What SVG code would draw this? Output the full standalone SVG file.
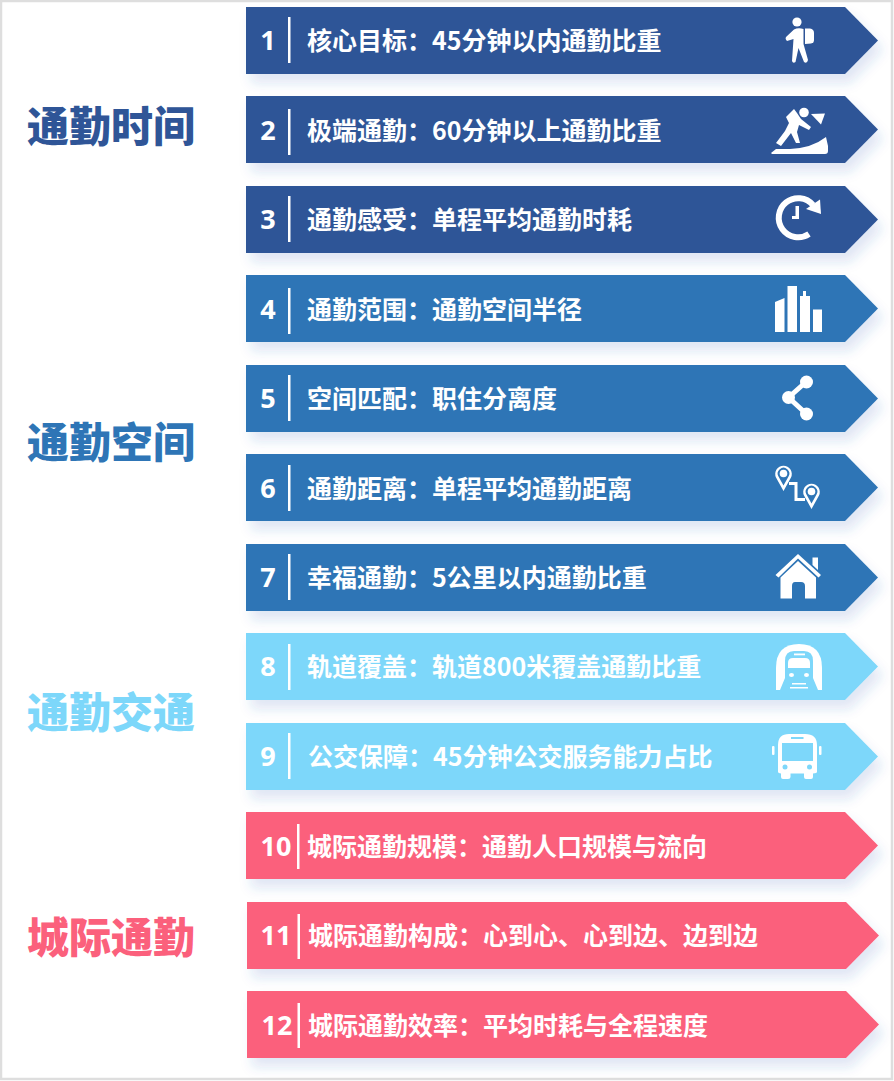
<svg xmlns="http://www.w3.org/2000/svg" width="894" height="1081" viewBox="0 0 894 1081">
<style>
text{font-family:"Noto Sans CJK SC","Noto Sans",sans-serif;font-weight:700}
.h{font-size:42px;font-weight:900}
.t{font-size:25px;fill:#fff}
.n{font-size:27px;fill:#fff;text-anchor:middle;font-family:"Noto Sans","Noto Sans CJK SC",sans-serif}
.d{fill:#2f5597}.m{fill:#2e75b6}.l{fill:#7dd7fa}.p{fill:#fb607c}
.w{fill:#fff}.ws{fill:none;stroke:#fff;stroke-linecap:round;stroke-linejoin:round}
.a{filter:url(#s)}
.v{fill:#fff}
</style>
<defs>
<filter id="s" x="-5%" y="-30%" width="112%" height="170%"><feDropShadow dx="5" dy="9" stdDeviation="6" flood-color="#2f5fb5" flood-opacity=".15"/></filter>
<path id="ar" d="M0 0H599L632 33.500L599 67H0Z"/>
</defs>
<rect width="894" height="1081" fill="#fff"/>
<rect x="1" y="1" width="891" height="1078" fill="none" stroke="#dedede" stroke-width="2.500"/>

<g id="headings">
<text class="h" x="27" y="142" fill="#2f5597">通勤时间</text>
<text class="h" x="27" y="458" fill="#2e75b6">通勤空间</text>
<text class="h" x="27" y="728" fill="#7dd7fa">通勤交通</text>
<text class="h" x="27" y="953" fill="#fb607c">城际通勤</text>
</g>

<g id="node1"><use href="#ar" x="246" y="7" class="a d"/><text class="n" x="268" y="50">1</text><rect class="v" x="288" y="17" width="2.500" height="46"/><text class="t" x="307" y="50">核心目标：45分钟以内通勤比重</text>
<circle class="w" cx="797" cy="22" r="4.600"/><path class="w" d="M805 28.500H810Q814 29 814 33V40Q814 43 811 43.500L805 44Z"/><path class="w" d="M794 29.500Q798 27.500 803.500 29V44L808 60Q807 64 804 62L798.500 48L795.500 62Q793 64 792 61L793.500 39L787 41Q784.500 38.500 786.500 36.500Z"/></g>

<g id="node2"><use href="#ar" x="246" y="96" class="a d"/><text class="n" x="268" y="140">2</text><rect class="v" x="288" y="109" width="2.500" height="46"/><text class="t" x="307" y="140">极端通勤：60分钟以上通勤比重</text>
<circle class="w" cx="804" cy="112.500" r="4.800"/><path class="w" d="M811 114L825 113.500L821 124.500Z"/><path class="w" d="M786 117L794 109L797 113L801 119L811 127L809 130L799 125L797 132L800 143H796L791 133L781 146L776 143L785 131L789 123Z"/><path class="w" d="M771 153L776 149H790Q812 148 826 137L828 146V151Q828 154 825 154H772Z"/></g>

<g id="node3"><use href="#ar" x="246" y="186" class="a d"/><text class="n" x="268" y="229">3</text><rect class="v" x="288" y="196" width="2.500" height="46"/><text class="t" x="307" y="229">通勤感受：单程平均通勤时耗</text>
<path class="ws" style="stroke-linecap:butt" stroke-width="6" d="M809 234A19.500 19.500 0 1 1 813 205"/><path class="w" d="M820 199.500L821 214L806 209Z"/><path class="w" d="M795.500 206H799V219H792V216H795.500Z"/></g>

<g id="node4"><use href="#ar" x="246" y="275" class="a m"/><text class="n" x="268" y="319">4</text><rect class="v" x="288" y="288" width="2.500" height="46"/><text class="t" x="307" y="319">通勤范围：通勤空间半径</text>
<path class="w" d="M775 302L784.500 298V332H775ZM787.500 286H797V332H787.500ZM800 296H803V291H806V296H810V332H800ZM813 309.500H822V332H813Z"/></g>

<g id="node5"><use href="#ar" x="246" y="365" class="a m"/><text class="n" x="268" y="408">5</text><rect class="v" x="288" y="375" width="2.500" height="46"/><text class="t" x="307" y="408">空间匹配：职住分离度</text>
<path class="ws" stroke-width="5" d="M806.500 381.500L788.500 397.500L806.500 414"/><circle class="w" cx="806.500" cy="382" r="6.500"/><circle class="w" cx="788.500" cy="397.500" r="6.500"/><circle class="w" cx="806.500" cy="414" r="6.500"/></g>

<g id="node6"><use href="#ar" x="246" y="454" class="a m"/><text class="n" x="268" y="498">6</text><rect class="v" x="288" y="465" width="2.500" height="46"/><text class="t" x="307" y="498">通勤距离：单程平均通勤距离</text>
<path class="ws" style="stroke-linecap:butt;stroke-linejoin:miter" stroke-width="3" d="M789 483.500H796V499.500H805"/>
<g id="pins"><path class="w" fill-rule="evenodd" d="M783.500 491L776 477.500A8.300 8.300 0 1 1 791 477.500ZM783.500 485.500L788.500 476.500A5.800 5.800 0 1 0 778.500 476.500Z"/><circle class="w" cx="783.500" cy="473.500" r="3.800"/><path class="w" fill-rule="evenodd" d="M811.500 509L804 495.500A8.300 8.300 0 1 1 819 495.500ZM811.500 503.500L816.500 494.500A5.800 5.800 0 1 0 806.500 494.500Z"/><circle class="w" cx="811.500" cy="491.500" r="3.800"/></g></g>

<g id="node7"><use href="#ar" x="246" y="544" class="a m"/><text class="n" x="268" y="587">7</text><rect class="v" x="288" y="554" width="2.500" height="46"/><text class="t" x="307" y="587">幸福通勤：5公里以内通勤比重</text>
<path class="w" d="M812.500 557.500H818V570L812.500 565ZM775.500 575L798 554L821 575L818.500 577.500L798 558.500L778.500 577.500Z"/><path class="w" d="M780.500 577.500L798 561L816 577.500V598.500H805V586Q805 582 801 582H795Q792 582 792 586V598.500H780.500Z"/></g>

<g id="node8"><use href="#ar" x="246" y="633" class="a l"/><text class="n" x="268" y="676">8</text><rect class="v" x="288" y="644" width="2.500" height="46"/><text class="t" x="307" y="676">轨道覆盖：轨道800米覆盖通勤比重</text>
<path class="w" d="M776 690V668Q776 644 799 644Q822 644 822 668V690Z"/><path class="l" d="M785 661Q785 651 794 651H804Q813 651 813 661V678L818 690H780L785 678Z"/><rect class="w" x="794" y="653.500" width="11" height="1.800"/><path class="w" d="M788 663Q788 658 793 658H805Q810 658 810 663V668H788Z"/><ellipse class="w" cx="791.500" cy="675" rx="2.500" ry="2"/><ellipse class="w" cx="806.500" cy="675" rx="2.500" ry="2"/><rect class="w" x="792" y="683" width="14" height="1.500"/><rect class="w" x="790" y="687" width="18" height="1.500"/></g>

<g id="node9"><use href="#ar" x="246" y="723" class="a l"/><text class="n" x="268" y="766">9</text><rect class="v" x="288" y="733" width="2.500" height="46"/><text class="t" x="308" y="766">公交保障：45分钟公交服务能力占比</text>
<path class="w" d="M778 745Q778 734 789 734H805Q817 734 817 745V772Q817 773 813 773.500V777Q813 779 811 779H806Q804 779 804 777V773.500H790.500V777Q790.500 779 788 779H783Q781 779 781 777V773.500Q778 773 778 772Z"/><rect class="l" x="782" y="743" width="31" height="18"/><rect class="l" x="791" y="737" width="12.500" height="2"/><circle class="l" cx="785" cy="767" r="2.500"/><circle class="l" cx="809.500" cy="767" r="2.500"/><rect class="w" x="772" y="746" width="2.500" height="9" rx="1"/><rect class="w" x="819" y="746" width="2.500" height="9" rx="1"/></g>

<g id="node10"><use href="#ar" x="246" y="812" class="a p"/><text class="n" x="276" y="856">10</text><rect class="v" x="297" y="824" width="2.500" height="45"/><text class="t" x="307" y="856">城际通勤规模：通勤人口规模与流向</text></g>

<g id="node11"><use href="#ar" x="247" y="902" class="a p"/><text class="n" x="276" y="945">11</text><rect class="v" x="297.500" y="914" width="2.500" height="45"/><text class="t" x="308" y="945">城际通勤构成：心到心、心到边、边到边</text></g>

<g id="node12"><use href="#ar" x="247" y="991" class="a p"/><text class="n" x="277" y="1035">12</text><rect class="v" x="297.500" y="1003" width="2.500" height="45"/><text class="t" x="308" y="1035">城际通勤效率：平均时耗与全程速度</text></g>
</svg>
